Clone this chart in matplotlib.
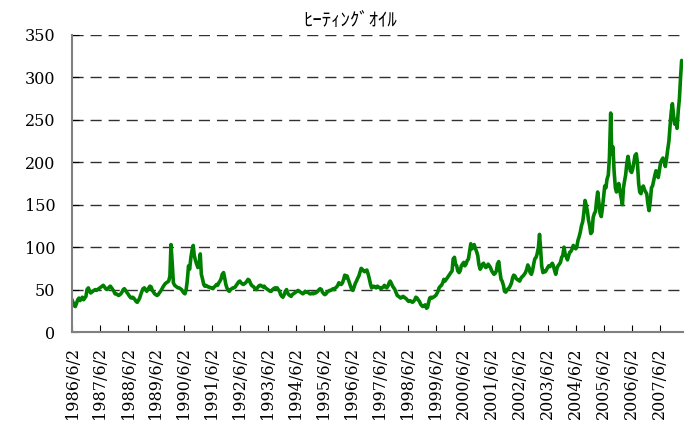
import numpy as np
import pandas as pd
import matplotlib
matplotlib.use("Agg")
import matplotlib.pyplot as plt

# Heating oil price, cents/gallon, sampled on the 1st and 15th of each month
p1986 = [38, 35, 31, 30, 34, 38, 40, 37, 39, 41, 38, 40, 42, 50]
p1987 = [52, 49, 46, 47, 48, 49, 50, 49, 50, 51, 52, 53,
         54, 55, 53, 51, 50, 51, 53, 54, 52, 50, 48, 45]
p1988 = [45, 44, 43, 44, 45, 47, 50, 51, 49, 47, 45, 43,
         41, 40, 41, 40, 38, 36, 35, 37, 40, 44, 48, 51]
p1989 = [52, 50, 48, 50, 52, 54, 53, 49, 47, 45, 44, 43,
         44, 46, 48, 50, 53, 55, 57, 58, 59, 60, 66, 103]
p1990 = [80, 58, 55, 54, 53, 52, 52, 51, 50, 48, 46, 45,
         50, 60, 78, 74, 88, 96, 102, 90, 84, 80, 76, 78]
p1991 = [92, 68, 62, 56, 54, 55, 54, 53, 53, 52, 52, 51,
         53, 54, 56, 55, 58, 60, 63, 68, 70, 64, 56, 52]
p1992 = [49, 48, 50, 51, 52, 52, 53, 55, 57, 59, 60, 58,
         57, 56, 57, 58, 60, 62, 61, 58, 55, 54, 53, 51]
p1993 = [50, 52, 54, 55, 55, 54, 53, 54, 52, 51, 50, 49,
         48, 48, 50, 51, 52, 51, 52, 50, 48, 44, 42, 41]
p1994 = [44, 48, 50, 46, 44, 43, 42, 44, 45, 46, 47, 48,
         49, 48, 47, 46, 45, 46, 48, 47, 47, 46, 45, 45]
p1995 = [46, 45, 46, 46, 47, 48, 50, 51, 50, 47, 45, 44,
         45, 47, 48, 49, 49, 50, 51, 50, 52, 53, 55, 58]
p1996 = [57, 56, 58, 62, 67, 64, 66, 62, 58, 54, 50, 49,
         53, 57, 60, 63, 66, 70, 75, 74, 72, 71, 72, 73]
p1997 = [68, 63, 56, 52, 53, 54, 53, 52, 54, 53, 52, 51,
         52, 53, 55, 53, 52, 54, 58, 60, 57, 54, 52, 50]
p1998 = [46, 43, 42, 41, 40, 41, 42, 41, 40, 39, 37, 36,
         37, 36, 35, 36, 38, 41, 40, 38, 36, 33, 31, 30]
p1999 = [31, 32, 28, 29, 35, 40, 41, 40, 41, 42, 43, 45,
         48, 52, 54, 55, 58, 62, 60, 62, 64, 66, 68, 70]
p2000 = [72, 86, 88, 80, 78, 72, 70, 72, 78, 80, 82, 78,
         80, 84, 86, 94, 104, 98, 100, 103, 98, 95, 90, 80]
p2001 = [74, 76, 80, 81, 78, 76, 77, 80, 78, 76, 72, 70,
         68, 69, 72, 80, 83, 72, 62, 60, 55, 48, 47, 49]
p2002 = [51, 52, 55, 58, 64, 67, 66, 63, 62, 61, 60, 63,
         65, 66, 68, 70, 74, 79, 76, 70, 68, 72, 80, 86]
p2003 = [88, 92, 100, 115, 98, 78, 70, 72, 71, 73, 76, 78,
         77, 79, 81, 78, 72, 68, 75, 78, 80, 82, 88, 90]
p2004 = [100, 92, 88, 85, 90, 94, 95, 98, 102, 100, 98, 100,
         108, 112, 118, 125, 130, 140, 155, 150, 142, 132, 125, 116]
p2005 = [118, 135, 140, 142, 155, 165, 152, 140, 136, 145, 160, 172,
         170, 180, 185, 205, 258, 210, 218, 190, 170, 165, 168, 175]
p2006 = [165, 158, 150, 170, 178, 185, 200, 207, 198, 190, 188, 192,
         200, 208, 210, 200, 175, 165, 163, 170, 172, 168, 165, 163]
p2007 = [150, 143, 155, 170, 172, 178, 185, 190, 188, 182, 192, 200,
         203, 205, 200, 195, 205, 215, 225, 242, 260, 269, 255, 245]
p2008 = [250, 240, 262, 275, 300, 320, 316]

price = (p1986 + p1987 + p1988 + p1989 + p1990 + p1991 + p1992 + p1993
         + p1994 + p1995 + p1996 + p1997 + p1998 + p1999 + p2000 + p2001
         + p2002 + p2003 + p2004 + p2005 + p2006 + p2007 + p2008)
dates = pd.date_range("1986-06-01", periods=len(price), freq="SMS")

tick_years = list(range(1986, 2008))
tick_dates = [pd.Timestamp(y, 6, 2) for y in tick_years]
tick_labels = [f"{y}/6/2" for y in tick_years]

plt.rcParams["font.family"] = ["DejaVu Serif"]

fig = plt.figure(figsize=(6.85, 4.21), dpi=100)
ax = fig.add_axes([0.105, 0.2114, 0.892, 0.7055])

ax.plot(dates, price, color="#008000", lw=2.6, solid_joinstyle="round")

ax.set_ylim(0, 350)
ax.set_yticks(np.arange(0, 351, 50))
ax.set_xlim(dates[0], dates[-1])
ax.set_xticks(tick_dates)
ax.set_xticklabels(tick_labels, rotation=90, fontsize=11.5)
ax.tick_params(axis="y", labelsize=11.5, direction="in", length=5, pad=12)
ax.tick_params(axis="x", direction="in", length=5, pad=11)

for v in range(50, 351, 50):
    ax.axhline(v, color="#303030", lw=1, ls=(0, (8, 5)), zorder=0)

for s in ["top", "right"]:
    ax.spines[s].set_visible(False)
for s in ["left", "bottom"]:
    ax.spines[s].set_color("#808080")
    ax.spines[s].set_linewidth(1.5)

fig.text(350 / 685, 0.952, "ﾋｰﾃｨﾝｸﾞｵｲﾙ", ha="center", va="center",
         fontsize=13.5, family=["Noto Sans CJK JP", "DejaVu Sans"])

fig.savefig("out.png", dpi=100)
